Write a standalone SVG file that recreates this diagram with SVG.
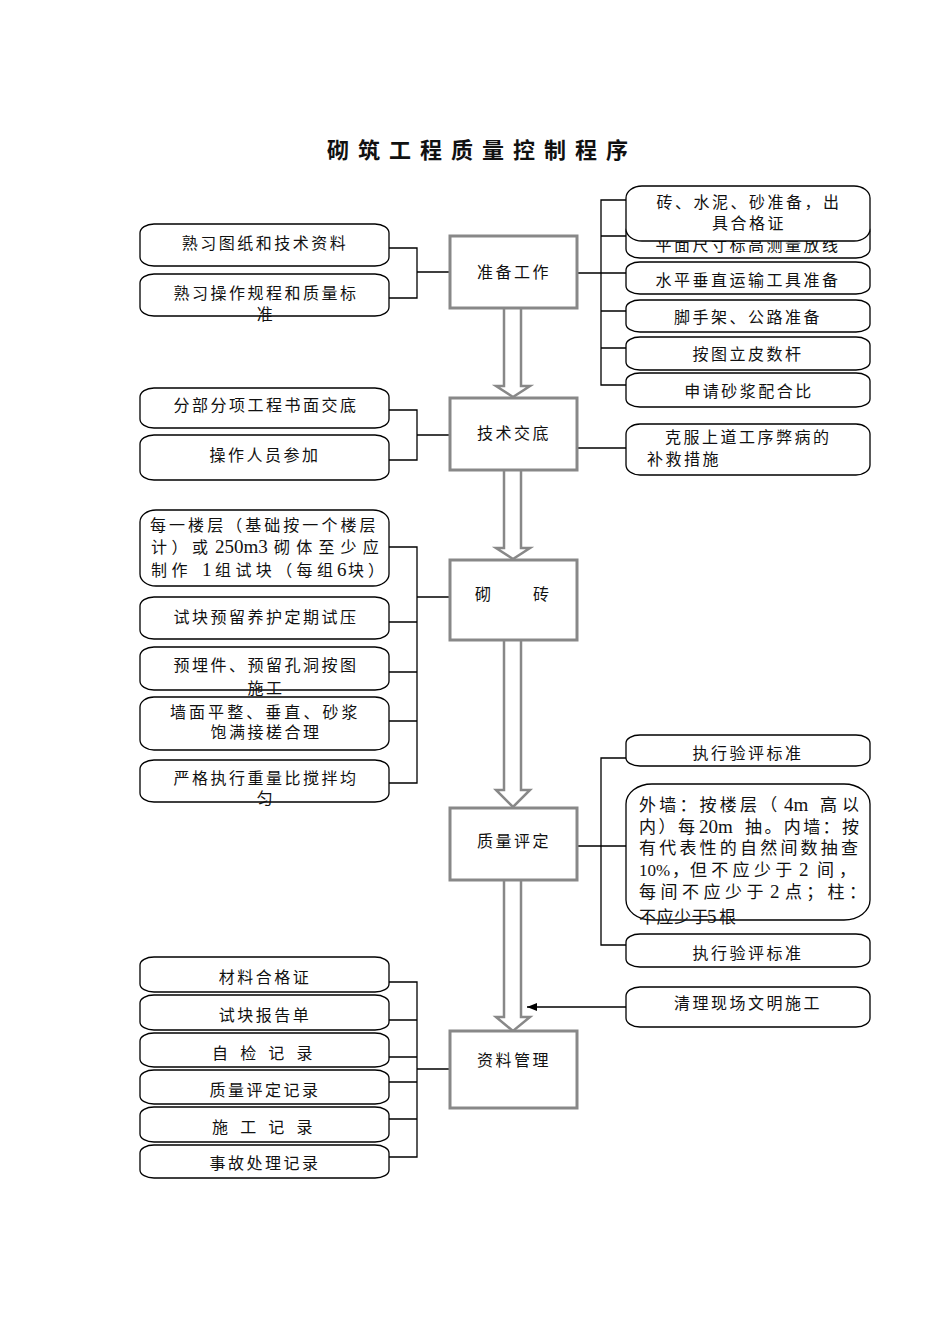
<svg xmlns="http://www.w3.org/2000/svg" width="950" height="1344" viewBox="0 0 950 1344">
<style>
.bg{fill:#fff}
.sb{fill:#fff;stroke:#000;stroke-width:1.3}
.cb{fill:#fff;stroke:#888;stroke-width:3}
.ha{fill:#fff;stroke:#888;stroke-width:2.5;stroke-linejoin:miter}
.ln{fill:none;stroke:#000;stroke-width:1.3}
text{font-family:"Liberation Serif","Noto Sans CJK SC",serif;font-size:16px;fill:#111;letter-spacing:2.5px}
.c{text-anchor:middle}
.t{font-family:"Noto Sans CJK SC","Liberation Sans",sans-serif;font-size:22px;font-weight:bold;letter-spacing:9px}
.w{font-size:17px;letter-spacing:0}
.lat{font-size:19px;letter-spacing:0}
</style>
<defs>
<marker id="ah" viewBox="0 0 10 8" refX="10" refY="4" markerWidth="10" markerHeight="8" markerUnits="userSpaceOnUse" orient="auto">
<path d="M0,0 L10,4 L0,8 Z" fill="#000"/>
</marker>
</defs>
<rect class="bg" x="0" y="0" width="950" height="1344"/>
<text id="title" class="t" x="482" y="158" text-anchor="middle">砌筑工程质量控制程序</text>

<g id="connectors">
<path class="ha" d="M504,308 L504,386 L496,386 L513,397 L530,386 L521,386 L521,308"/>
<path class="ha" d="M504,470 L504,548 L496,548 L513,559 L530,548 L521,548 L521,470"/>
<path class="ha" d="M504,640 L504,790 L496,790 L513,807 L530,790 L521,790 L521,640"/>
<path class="ha" d="M504,880 L504,1017 L496,1017 L513,1031 L530,1017 L521,1017 L521,880"/>
<path class="ln" d="M389,248 H417 V298 H389 M417,272 H450"/>
<path class="ln" d="M389,410 H417 V460 H389 M417,435 H450"/>
<path class="ln" d="M389,547 H417 V783 H389 M389,622 H417 M389,672 H417 M389,721 H417 M417,597 H450"/>
<path class="ln" d="M389,982 H417 V1157 H389 M389,1020 H417 M389,1057 H417 M389,1082 H417 M389,1119 H417 M417,1069 H450"/>
<path class="ln" d="M577,273 H626 M626,200 H601 V385 H626 M601,236 H626 M601,311 H626 M601,348 H626"/>
<path class="ln" d="M577,448 H626"/>
<path class="ln" d="M577,846 H626 M626,758 H601 V945 H626"/>
<path class="ln" d="M626,1007 H527" marker-end="url(#ah)"/>
</g>

<g id="n-prep"><rect class="cb" x="450" y="236" width="127" height="72"/><text class="c" x="514" y="278">准备工作</text></g>
<g id="n-tech"><rect class="cb" x="450" y="398" width="127" height="72"/><text class="c" x="514" y="439">技术交底</text></g>
<g id="n-brick"><rect class="cb" x="450" y="560" width="127" height="80"/><text y="600"><tspan x="475">砌</tspan><tspan x="533">砖</tspan></text></g>
<g id="n-eval"><rect class="cb" x="450" y="808" width="127" height="72"/><text class="c" x="514" y="847">质量评定</text></g>
<g id="n-docs"><rect class="cb" x="450" y="1031" width="127" height="77"/><text class="c" x="514" y="1066">资料管理</text></g>

<g id="l1"><rect class="sb" x="140" y="224" width="249" height="42" rx="14" ry="9"/><text class="c" x="265" y="249">熟习图纸和技术资料</text></g>
<g id="l2"><rect class="sb" x="140" y="274" width="249" height="42" rx="14" ry="9"/><text class="c" x="266" y="299">熟习操作规程和质量标</text><text class="c" x="266" y="320">准</text></g>
<g id="l3"><rect class="sb" x="140" y="388" width="249" height="40" rx="14" ry="9"/><text class="c" x="266" y="411">分部分项工程书面交底</text></g>
<g id="l4"><rect class="sb" x="140" y="435" width="249" height="45" rx="14" ry="9"/><text class="c" x="265" y="461">操作人员参加</text></g>
<g id="l5"><rect class="sb" x="140" y="510" width="249" height="76" rx="16" ry="12"/>
<text x="150" y="531" textLength="228" lengthAdjust="spacing">每一楼层（基础按一个楼层</text>
<text y="553"><tspan x="151" style="letter-spacing:4.5px">计）或</tspan><tspan class="lat" x="215">250m3</tspan><tspan x="274" style="letter-spacing:6.2px">砌体至少应</tspan></text>
<text y="576"><tspan x="151" style="letter-spacing:4.5px">制作</tspan><tspan class="lat" x="202">1</tspan><tspan x="215" style="letter-spacing:4.4px">组试块（每组</tspan><tspan class="lat" x="337">6</tspan><tspan x="348" style="letter-spacing:4px">块）</tspan></text></g>
<g id="l6"><rect class="sb" x="140" y="597" width="249" height="42" rx="14" ry="9"/><text class="c" x="266" y="623">试块预留养护定期试压</text></g>
<g id="l7"><rect class="sb" x="140" y="647" width="249" height="43" rx="14" ry="9"/><text class="c" x="266" y="671">预埋件、预留孔洞按图</text><text class="c" x="266" y="694">施工</text></g>
<g id="l8"><rect class="sb" x="140" y="697" width="249" height="53" rx="14" ry="10"/><text x="170" y="718" textLength="190" lengthAdjust="spacing">墙面平整、垂直、砂浆</text><text class="c" x="266" y="738">饱满接槎合理</text></g>
<g id="l9"><rect class="sb" x="140" y="760" width="249" height="42" rx="14" ry="9"/><text class="c" x="266" y="784">严格执行重量比搅拌均</text><text class="c" x="266" y="804">匀</text></g>

<g id="l10"><rect class="sb" x="140" y="957" width="249" height="35" rx="14" ry="8"/><text class="c" x="265" y="983">材料合格证</text></g>
<g id="l11"><rect class="sb" x="140" y="995" width="249" height="35" rx="14" ry="8"/><text class="c" x="265" y="1021">试块报告单</text></g>
<g id="l12"><rect class="sb" x="140" y="1033" width="249" height="34" rx="14" ry="8"/><text x="212" y="1059" textLength="103" lengthAdjust="spacing">自 检 记 录</text></g>
<g id="l13"><rect class="sb" x="140" y="1070" width="249" height="34" rx="14" ry="8"/><text class="c" x="265" y="1096">质量评定记录</text></g>
<g id="l14"><rect class="sb" x="140" y="1107" width="249" height="35" rx="14" ry="8"/><text x="212" y="1133" textLength="103" lengthAdjust="spacing">施 工 记 录</text></g>
<g id="l15"><rect class="sb" x="140" y="1145" width="249" height="33" rx="14" ry="8"/><text class="c" x="265" y="1169">事故处理记录</text></g>

<g id="r2"><rect class="sb" x="626" y="222" width="244" height="36" rx="14" ry="9"/><text class="c" x="748" y="251">平面尺寸标高测量放线</text></g>
<g id="r1"><rect class="sb" x="626" y="186" width="244" height="55" rx="16" ry="12"/><text class="c" x="749" y="208">砖、水泥、砂准备，出</text><text class="c" x="749" y="229">具合格证</text></g>
<g id="r3"><rect class="sb" x="626" y="262" width="244" height="32" rx="14" ry="8"/><text class="c" x="748" y="286">水平垂直运输工具准备</text></g>
<g id="r4"><rect class="sb" x="626" y="300" width="244" height="32" rx="14" ry="8"/><text class="c" x="748" y="323">脚手架、公路准备</text></g>
<g id="r5"><rect class="sb" x="626" y="337" width="244" height="33" rx="14" ry="8"/><text class="c" x="748" y="360">按图立皮数杆</text></g>
<g id="r6"><rect class="sb" x="626" y="373" width="244" height="34" rx="14" ry="8"/><text class="c" x="749" y="397">申请砂浆配合比</text></g>
<g id="r7"><rect class="sb" x="626" y="424" width="244" height="51" rx="14" ry="10"/><text x="665" y="443">克服上道工序弊病的</text><text x="647" y="465">补救措施</text></g>
<g id="r8"><rect class="sb" x="626" y="735" width="244" height="31" rx="14" ry="8"/><text class="c" x="748" y="759">执行验评标准</text></g>
<g id="r9"><rect class="sb" x="626" y="784" width="244" height="136" rx="26" ry="20"/>
<text class="w" y="811"><tspan x="639" style="letter-spacing:3.2px">外墙：按楼层（</tspan><tspan class="lat" x="784">4m</tspan><tspan x="820" style="letter-spacing:5px">高以</tspan></text>
<text class="w" y="833"><tspan x="639" style="letter-spacing:2.5px">内）每</tspan><tspan class="lat" x="699">20m</tspan><tspan x="745" style="letter-spacing:2.4px">抽。内墙：按</tspan></text>
<text class="w" x="639" y="854" textLength="219" lengthAdjust="spacing">有代表性的自然间数抽查</text>
<text class="w" y="876"><tspan x="639" style="font-size:17px">10%</tspan><tspan x="672">，</tspan><tspan x="690" style="letter-spacing:4.3px">但不应少于</tspan><tspan class="lat" x="799">2</tspan><tspan x="817" style="letter-spacing:5px">间，</tspan></text>
<text class="w" y="898"><tspan x="639" style="letter-spacing:4.5px">每间不应少于</tspan><tspan class="lat" x="770">2</tspan><tspan x="785" style="letter-spacing:4.3px">点；柱：</tspan></text>
<text class="w" y="923"><tspan x="639" style="letter-spacing:0.5px">不应少于</tspan><tspan class="lat" x="707">5</tspan><tspan x="719">根</tspan></text></g>
<g id="r10"><rect class="sb" x="626" y="934" width="244" height="33" rx="14" ry="8"/><text class="c" x="748" y="959">执行验评标准</text></g>
<g id="r11"><rect class="sb" x="626" y="987" width="244" height="40" rx="14" ry="9"/><text class="c" x="748" y="1009">清理现场文明施工</text></g>
</svg>
